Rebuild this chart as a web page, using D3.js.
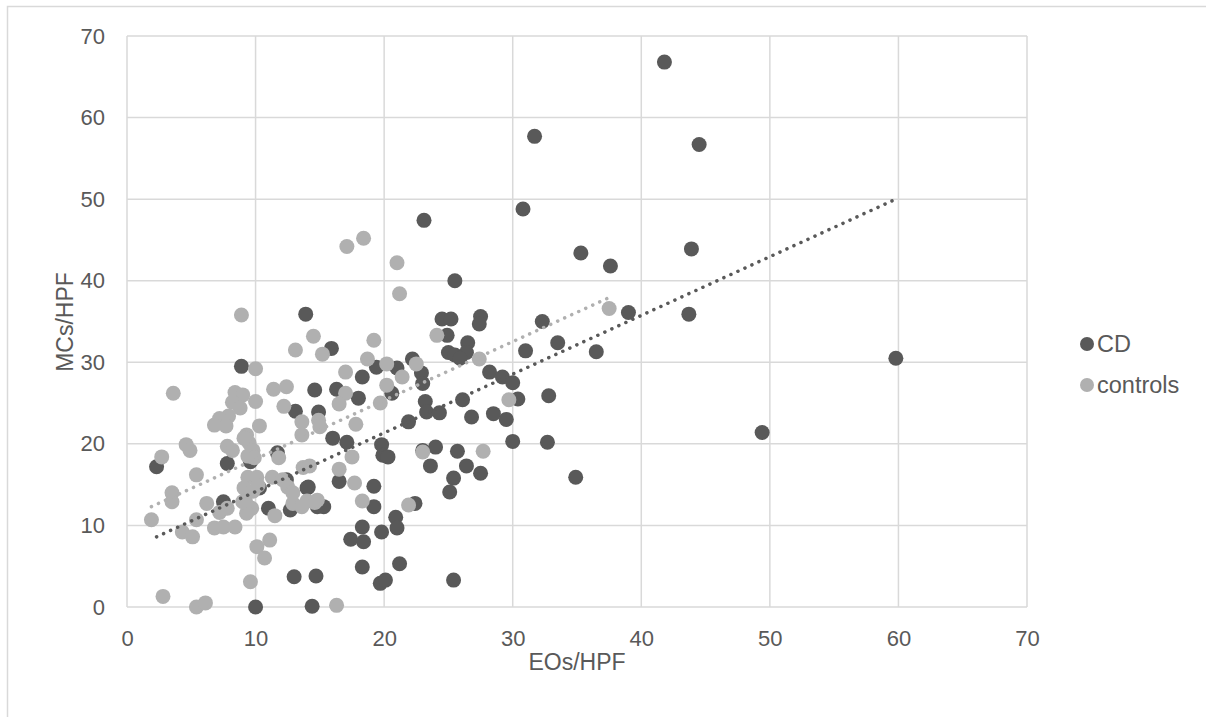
<!DOCTYPE html>
<html><head><meta charset="utf-8">
<script src="https://cdn.jsdelivr.net/npm/d3@7/dist/d3.min.js"></script>
<style>html,body{margin:0;padding:0;background:#fff;}svg{display:block;font-family:"Liberation Sans",Arial,sans-serif;}</style>
</head><body>
<svg id="c" width="1206" height="717"></svg>
<script>
const seriesNames = ["CD", "controls"];
const xTicks = [0,10,20,30,40,50,60,70];
const yTicks = [0,10,20,30,40,50,60,70];

const cdX = [41.8,31.7,44.5,30.8,23.1,35.3,43.9,37.6,25.5,39.0,43.7,13.9,32.3,27.5,27.4,24.5,25.2,33.5,31.0,36.5,59.8,8.9,15.9,24.9,
  25.0,25.5,26.5,26.4,25.9,19.4,21.0,22.2,22.9,23.0,18.3,20.6,14.6,16.3,18.0,23.2,26.1,28.2,29.2,30.0,30.4,32.8,23.3,24.3,26.8,28.5,29.5,21.9,14.9,13.1,
  16.0,17.1,19.8,19.9,20.3,23.0,24.0,25.7,30.0,32.7,23.6,26.4,27.5,25.4,25.1,34.9,49.4,16.5,19.2,14.0,19.2,14.8,15.3,22.4,20.9,21.0,18.3,19.8,17.4,18.4,
  18.3,21.2,19.7,20.1,25.4,14.7,13.0,14.4,10.0,2.3,7.8,9.6,11.7,10.3,7.5,11.0,12.7,12.4,14.1];
const cdY = [66.8,57.7,56.7,48.8,47.4,43.4,43.9,41.8,40.0,36.1,35.9,35.9,35.0,35.6,34.7,35.3,35.3,32.4,31.4,31.3,30.5,29.5,31.7,33.3,
  31.2,30.9,32.4,31.2,30.5,29.4,29.3,30.4,28.7,27.4,28.2,26.2,26.6,26.7,25.6,25.2,25.4,28.8,28.2,27.5,25.5,25.9,23.9,23.8,23.3,23.7,23.0,22.7,23.9,24.0,
  20.7,20.2,19.9,18.6,18.4,19.2,19.6,19.1,20.3,20.2,17.3,17.3,16.4,15.8,14.1,15.9,21.4,15.4,14.8,14.6,12.3,12.3,12.3,12.7,11.0,9.7,9.8,9.2,8.3,8.0,
  4.9,5.3,2.9,3.3,3.3,3.8,3.7,0.1,0.0,17.2,17.6,17.8,18.9,14.6,12.9,12.1,11.9,15.6,14.7];

const ctrlX = [37.5,21.2,17.1,18.4,21.0,14.5,24.1,15.2,19.2,27.4,18.7,20.2,22.5,21.4,17.0,20.2,19.7,17.0,16.5,17.8,14.9,15.0,13.6,13.6,
  17.5,16.5,23.0,27.7,29.7,13.7,14.2,17.7,18.3,14.0,14.6,14.8,21.9,16.3,8.9,13.1,10.0,3.6,8.4,9.0,8.2,8.8,7.9,7.2,10.0,11.4,12.4,12.2,6.8,7.7,10.3,
  4.6,4.9,7.8,8.2,9.3,9.5,9.8,9.4,9.9,9.1,2.7,5.4,11.8,3.5,3.5,6.2,7.2,7.8,9.4,10.1,9.1,9.8,10.2,11.3,12.1,12.5,12.9,9.2,9.7,9.3,9.0,11.5,12.9,13.6,
  1.9,5.4,4.3,5.1,6.8,7.5,8.4,11.1,10.1,10.7,9.6,2.8,5.4,6.1];
const ctrlY = [36.6,38.4,44.2,45.2,42.2,33.2,33.3,31.0,32.7,30.4,30.4,29.8,29.8,28.2,28.8,27.2,25.0,26.2,24.9,22.4,22.9,22.1,22.7,21.1,
  18.4,16.9,19.0,19.1,25.4,17.1,17.3,15.2,13.0,13.0,12.8,13.1,12.5,0.2,35.8,31.5,29.2,26.2,26.3,26.0,25.1,24.4,23.4,23.1,25.2,26.7,27.0,24.6,22.3,22.2,22.2,
  19.9,19.2,19.7,19.2,21.1,20.1,19.2,18.5,18.3,20.7,18.4,16.2,18.3,14.0,12.9,12.7,11.6,12.1,15.9,15.9,14.6,14.2,14.9,15.9,15.6,14.7,14.0,13.1,12.1,11.5,12.9,11.2,12.7,12.3,
  10.7,10.7,9.2,8.6,9.7,9.8,9.8,8.2,7.4,6.0,3.1,1.3,0.0,0.5];

// trendline endpoints: [x0, y0, x1, y1]
const cdTrend = [2.3, 8.6, 59.8, 50.0];
const ctrlTrend = [1.9, 12.3, 37.6, 38.0];

const colors = {CD: "#595959", controls: "#b0b0b0"};
const grid = "#d9d9d9", textCol = "#595959";

const svg = d3.select("#c");
svg.append("rect").attr("x",7.5).attr("y",6.5).attr("width",1210).attr("height",720)
  .attr("fill","#fff").attr("stroke",grid).attr("stroke-width",1.5);

const x = d3.scaleLinear().domain([0,70]).range([127,1027]);
const y = d3.scaleLinear().domain([0,70]).range([607,36]);

// gridlines
svg.append("g").selectAll("line").data(xTicks).join("line")
  .attr("x1",d=>x(d)).attr("x2",d=>x(d)).attr("y1",y(0)).attr("y2",y(70))
  .attr("stroke",grid).attr("stroke-width",1.5);
svg.append("g").selectAll("line").data(yTicks).join("line")
  .attr("x1",x(0)).attr("x2",x(70)).attr("y1",d=>y(d)).attr("y2",d=>y(d))
  .attr("stroke",grid).attr("stroke-width",1.5);

// axes (labels only)
const xAxis = svg.append("g").attr("transform",`translate(0,${y(0)})`)
  .call(d3.axisBottom(x).tickValues(xTicks).tickSize(0).tickPadding(22).tickFormat(d3.format("d")));
const yAxis = svg.append("g").attr("transform",`translate(${x(0)},0)`)
  .call(d3.axisLeft(y).tickValues(yTicks).tickSize(0).tickPadding(22).tickFormat(d3.format("d")));
[xAxis,yAxis].forEach(a=>{
  a.select(".domain").remove();
  a.selectAll("text").attr("fill",textCol).attr("font-size",22).attr("font-family",'"Liberation Sans",Arial,sans-serif');
});
xAxis.selectAll("text").attr("dy","0.75em");

// series
function drawSeries(xs, ys, col){
  svg.append("g").selectAll("circle").data(xs.map((v,i)=>[v,ys[i]])).join("circle")
    .attr("cx",d=>x(d[0])).attr("cy",d=>y(d[1])).attr("r",7.5).attr("fill",col);
}
drawSeries(cdX, cdY, colors.CD);
drawSeries(ctrlX, ctrlY, colors.controls);

function drawTrend(t, col){
  svg.append("line").attr("x1",x(t[0])).attr("y1",y(t[1])).attr("x2",x(t[2])).attr("y2",y(t[3]))
    .attr("stroke",col).attr("stroke-width",3.5).attr("stroke-linecap","round").attr("stroke-dasharray","0.1 7.6");
}
drawTrend(ctrlTrend, colors.controls);
drawTrend(cdTrend, colors.CD);

// axis titles
svg.append("text").attr("x",577).attr("y",670).attr("text-anchor","middle")
  .attr("font-size",23).attr("fill",textCol).text("EOs/HPF");
svg.append("text").attr("transform","translate(73,322) rotate(-90)").attr("text-anchor","middle")
  .attr("font-size",23).attr("fill",textCol).text("MCs/HPF");

// legend
const lg = svg.append("g").attr("transform","translate(1087,344)");
seriesNames.forEach((s,i)=>{
  const g = lg.append("g").attr("transform",`translate(0,${i*41})`);
  g.append("circle").attr("cx",0).attr("cy",0).attr("r",7).attr("fill",colors[s]);
  g.append("text").attr("x",10).attr("y",0).attr("dy","0.36em").attr("font-size",23.5).attr("fill",textCol).text(s);
});
</script>
</body></html>
